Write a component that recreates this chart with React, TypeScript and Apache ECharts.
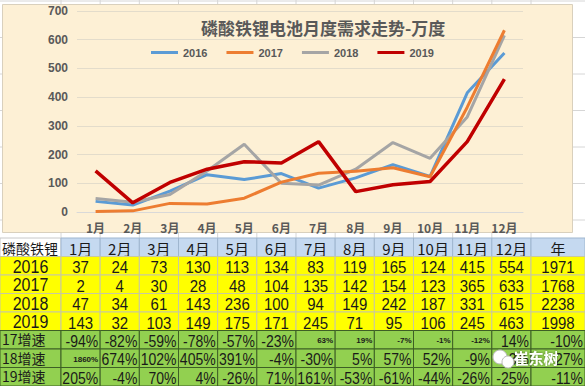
import React, { useEffect, useRef } from "react";
import * as echarts from "echarts";

const months = ["1月", "2月", "3月", "4月", "5月", "6月", "7月", "8月", "9月", "10月", "11月", "12月"];
const yearNames = ["2016", "2017", "2018", "2019"];
const v2016 = [37, 24, 73, 130, 113, 134, 83, 119, 165, 124, 415, 554];
const v2017 = [2, 4, 30, 28, 48, 104, 135, 142, 154, 123, 365, 633];
const v2018 = [47, 34, 61, 143, 236, 100, 94, 149, 242, 187, 331, 615];
const v2019 = [143, 32, 103, 149, 175, 171, 245, 71, 95, 106, 245, 463];
const totals = [1971, 1768, 2238, 1998];
const growthNames = ["17增速", "18增速", "19增速"];
const g17 = ["-94%", "-82%", "-59%", "-78%", "-57%", "-23%", "63%", "19%", "-7%", "-1%", "-12%", "14%", "-10%"];
const g18 = ["1860%", "674%", "102%", "405%", "391%", "-4%", "-30%", "5%", "57%", "52%", "-9%", "-3%", "27%"];
const g19 = ["205%", "-4%", "70%", "4%", "-26%", "71%", "161%", "-53%", "-61%", "-44%", "-26%", "-25%", "-11%"];
const yTicks = [0, 100, 200, 300, 400, 500, 600, 700];
const titleText = "磷酸铁锂电池月度需求走势-万度";
const tableCorner = "磷酸铁锂电池";
const yearCol = "年";
const watermark = "崔东树";

const lineColors = ["#5b9bd5", "#ed7d31", "#a5a5a5", "#c00000"];

export default function App() {
  const ref = useRef<HTMLDivElement>(null);
  useEffect(() => {
    if (!ref.current) return;
    const chart = echarts.init(ref.current, null, { renderer: "svg" });
    const W = 585;
    const H = 386;
    const font = "'Liberation Sans', 'Noto Sans CJK SC', sans-serif";
    const cjk = "'Noto Sans CJK SC', sans-serif";

    const col0W = 61;
    const monthW = (531 - 61) / 12;
    const colX: number[] = [0, col0W];
    for (let i = 1; i <= 12; i++) colX.push(col0W + i * monthW);
    colX.push(W);
    const tableTop = 238;
    const rowH = (H - tableTop) / 8;

    const bg: any[] = [];
    bg.push({ type: "rect", z: -20, shape: { x: 0, y: 0, width: W, height: H }, style: { fill: "#ffffff" } });
    for (let i = 1; i < colX.length - 1; i++) {
      bg.push({ type: "line", z: -19, shape: { x1: colX[i], y1: 0, x2: colX[i], y2: tableTop }, style: { stroke: "#d6d6d6", lineWidth: 1 } });
    }
    for (let y = 1; y < tableTop; y += 36.5) {
      bg.push({ type: "line", z: -19, shape: { x1: 0, y1: y, x2: W, y2: y }, style: { stroke: "#d6d6d6", lineWidth: 1 } });
    }
    bg.push({ type: "rect", z: -18, shape: { x: 2.5, y: 4.5, width: 570, height: 228 }, style: { fill: "#fdf0d5", stroke: "#d9d0bd", lineWidth: 1 } });

    const table: any[] = [];
    const cell = (c: number, r: number, fill: string, stroke: string, text: string, opts: any = {}) => {
      const x = colX[c];
      const y = tableTop + r * rowH;
      const w = colX[c + 1] - colX[c];
      table.push({ type: "rect", z: 10, shape: { x, y, width: w, height: rowH }, style: { fill, stroke, lineWidth: 1 } });
      const align = opts.align || "center";
      const tx = align === "left" ? x + 2 : align === "right" ? x + w - 2 : x + w / 2;
      const style: any = {
        text,
        align,
        verticalAlign: "middle",
        fill: "#1a1a1a",
        fontSize: opts.fontSize || 15,
        fontWeight: opts.fontWeight || "normal",
        fontFamily: opts.fontFamily || font,
      };
      if (opts.truncate) {
        style.width = w - 3;
        style.overflow = "truncate";
        style.ellipsis = "";
      }
      const dy = opts.dy !== undefined ? opts.dy : 1;
      table.push({ type: "text", z: 10, x: tx, y: y + rowH / 2 + dy, scaleY: opts.scaleY || 1, style });
    };
    cell(0, 0, "#ffffff", "#c8c8c8", tableCorner, { align: "left", fontSize: 14, fontFamily: cjk, truncate: true });
    months.forEach((m, i) => cell(i + 1, 0, "#c5d9f0", "#9fb6cf", m, { fontSize: 15, fontFamily: cjk }));
    cell(13, 0, "#c5d9f0", "#9fb6cf", yearCol, { fontSize: 15, fontFamily: cjk });
    const yearData = [v2016, v2017, v2018, v2019];
    yearData.forEach((arr, r) => {
      cell(0, r + 1, "#ffff00", "#c8c8a0", yearNames[r], { fontSize: 16, scaleY: 1.1 });
      arr.forEach((v, i) => cell(i + 1, r + 1, "#ffff00", "#c8c8a0", String(v), { fontSize: 15, scaleY: 1.15 }));
      cell(13, r + 1, "#ffff00", "#c8c8a0", String(totals[r]), { fontSize: 15, scaleY: 1.15 });
    });
    const growth = [g17, g18, g19];
    const smallCells: Record<string, boolean> = { "0-6": true, "0-7": true, "0-8": true, "0-9": true, "0-10": true, "1-0": true };
    growth.forEach((arr, r) => {
      cell(0, r + 5, "#92d050", "#3d5f25", growthNames[r], { align: "left", fontSize: 14, fontFamily: cjk, dy: -0.5 });
      arr.forEach((v, i) => {
        const small = smallCells[r + "-" + i];
        cell(i + 1, r + 5, "#92d050", "#3d5f25", v, {
          align: "right",
          fontSize: small ? 8 : 14,
          fontWeight: small ? "bold" : "normal",
          scaleY: small ? 1 : 1.15,
        });
      });
    });
    table.push({ type: "circle", z: 11, shape: { cx: 500, cy: 357, r: 7 }, style: { fill: "#ffffff", stroke: "#bbbbbb", lineWidth: 1 } });
    table.push({ type: "circle", z: 11, shape: { cx: 508, cy: 362, r: 6 }, style: { fill: "#ffffff", stroke: "#bbbbbb", lineWidth: 1 } });
    table.push({
      type: "text",
      z: 12,
      x: 536,
      y: 357,
      style: {
        text: watermark,
        align: "center",
        verticalAlign: "middle",
        fill: "#ffffff",
        fontSize: 15,
        fontWeight: "bold",
        fontFamily: cjk,
        textShadowColor: "rgba(0,0,0,0.5)",
        textShadowBlur: 2,
      },
    });

    const names = yearNames;
    const seriesData = [v2016, v2017, v2018, v2019];

    chart.setOption({
      animation: false,
      backgroundColor: "#ffffff",
      title: {
        text: titleText,
        left: 196,
        top: 14,
        textStyle: { fontSize: 17, fontWeight: "bold", color: "#595959", fontFamily: cjk },
      },
      legend: {
        data: names,
        left: 146,
        top: 42,
        icon: "rect",
        itemWidth: 27,
        itemHeight: 3,
        itemGap: 19,
        textStyle: { fontSize: 11, fontWeight: "bold", color: "#595959", fontFamily: font },
      },
      grid: { left: 77, right: 62, top: 11, bottom: 174 },
      xAxis: {
        type: "category",
        data: months,
        boundaryGap: true,
        axisLine: { lineStyle: { color: "#d9d9d9" } },
        axisTick: { show: false },
        axisLabel: { color: "#595959", fontSize: 12, fontWeight: "bold", margin: 9, fontFamily: cjk },
      },
      yAxis: {
        type: "value",
        min: yTicks[0],
        max: yTicks[yTicks.length - 1],
        interval: 100,
        axisLine: { show: false },
        axisTick: { show: false },
        splitLine: { lineStyle: { color: "#e3dccb" } },
        axisLabel: { color: "#595959", fontSize: 12, fontWeight: "bold", margin: 9, fontFamily: font },
      },
      series: seriesData.map((d, i) => ({
        name: names[i],
        type: "line",
        data: d,
        symbol: "none",
        z: i === 3 ? 5 : i === 1 ? 4 : i === 2 ? 3 : 2,
        lineStyle: { color: lineColors[i], width: i === 3 ? 3.5 : 3 },
        itemStyle: { color: lineColors[i] },
      })),
      graphic: [...bg, ...table],
    });
    return () => chart.dispose();
  }, []);
  return <div ref={ref} style={{ position: "fixed", left: 0, top: 0, width: 585, height: 386 }} />;
}
